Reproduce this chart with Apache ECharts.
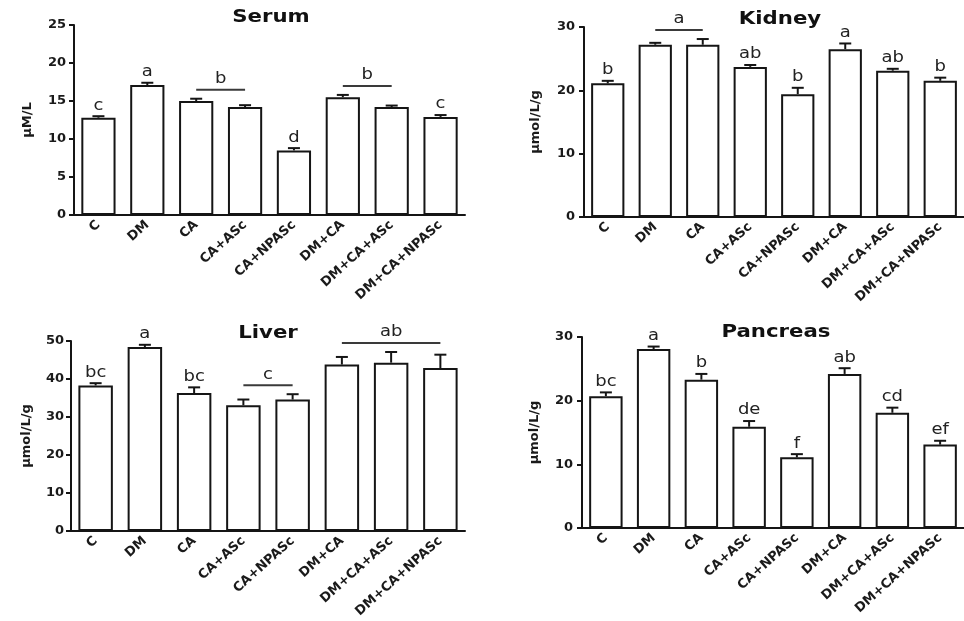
<!DOCTYPE html>
<html>
<head>
<meta charset="utf-8">
<script src="https://cdn.jsdelivr.net/npm/echarts@6/dist/echarts.min.js"></script>
<style>
html, body { margin: 0; padding: 0; background: #fff; }
#chart { width: 964px; height: 621px; }
</style>
</head>
<body>
<div id="chart"></div>
<script>
var myChart = echarts.init(document.getElementById('chart'));

var categories = ['C', 'DM', 'CA', 'CA+ASc', 'CA+NPASc', 'DM+CA', 'DM+CA+ASc', 'DM+CA+NPASc'];

// serum
var serumMean = [12.8, 17.1, 15.0, 14.2, 8.5, 15.5, 14.2, 12.9];
var serumErr = [0.2, 0.3, 0.3, 0.25, 0.3, 0.3, 0.2, 0.25];
var serumLetters = ['c', 'a', '', '', 'd', '', '', 'c'];
var serumGroups = [[2, 3, 'b'], [5, 6, 'b']];
var serumTicks = [0, 25, 5];

// kidney
var kidneyMean = [21.1, 27.2, 27.2, 23.7, 19.4, 26.5, 23.1, 21.5];
var kidneyErr = [0.4, 0.3, 0.9, 0.3, 1.0, 0.9, 0.3, 0.5];
var kidneyLetters = ['b', '', '', 'ab', 'b', 'a', 'ab', 'b'];
var kidneyGroups = [[1, 2, 'a']];
var kidneyTicks = [0, 30, 10];

// liver
var liverMean = [38.3, 48.4, 36.3, 33.1, 34.6, 43.8, 44.3, 42.9];
var liverErr = [0.6, 0.6, 1.5, 1.5, 1.4, 2.0, 2.8, 3.5];
var liverLetters = ['bc', 'a', 'bc', '', '', '', '', ''];
var liverGroups = [[3, 4, 'c'], [5, 7, 'ab']];
var liverTicks = [0, 50, 10];

// pancreas
var pancreasMean = [20.7, 28.1, 23.3, 15.9, 11.1, 24.2, 18.1, 13.1];
var pancreasErr = [0.6, 0.4, 0.9, 0.9, 0.5, 0.9, 0.8, 0.6];
var pancreasLetters = ['bc', 'a', 'b', 'de', 'f', 'ab', 'cd', 'ef'];
var pancreasGroups = [];
var pancreasTicks = [0, 30, 10];

var BOLD_FONT = '"DejaVu Sans", "Liberation Sans", sans-serif';
var INK = '#151515';

var panels = [
    { title: 'Serum', unit: '\u00b5M/L', mean: serumMean, err: serumErr, letters: serumLetters, groups: serumGroups, ticks: serumTicks,
      grid: { left: 74, top: 25, width: 391, height: 190 }, nameGap: 40, labelMargin: 8, titleX: 271, titleY: 18 },
    { title: 'Kidney', unit: '\u00b5mol/L/g', mean: kidneyMean, err: kidneyErr, letters: kidneyLetters, groups: kidneyGroups, ticks: kidneyTicks,
      grid: { left: 584, top: 27, width: 389, height: 190 }, nameGap: 42, labelMargin: 9, titleX: 780, titleY: 20 },
    { title: 'Liver', unit: '\u00b5mol/L/g', mean: liverMean, err: liverErr, letters: liverLetters, groups: liverGroups, ticks: liverTicks,
      grid: { left: 71, top: 341, width: 394, height: 190 }, nameGap: 38, labelMargin: 7, titleX: 268, titleY: 334 },
    { title: 'Pancreas', unit: '\u00b5mol/L/g', mean: pancreasMean, err: pancreasErr, letters: pancreasLetters, groups: pancreasGroups, ticks: pancreasTicks,
      grid: { left: 582, top: 337, width: 389, height: 191 }, nameGap: 41, labelMargin: 9, titleX: 776, titleY: 333 }
];

var grids = [], xAxes = [], yAxes = [], series = [], graphics = [];

panels.forEach(function(p, k) {
    grids.push(p.grid);

    xAxes.push({
        type: 'category',
        gridIndex: k,
        data: categories,
        axisLine: { lineStyle: { color: INK, width: 2 } },
        axisTick: { alignWithLabel: true, length: 4, lineStyle: { color: INK, width: 2 } },
        axisLabel: { rotate: 42, interval: 0, margin: 8, color: '#1a1a1a', fontWeight: 'bold', fontSize: 13, fontFamily: BOLD_FONT }
    });

    yAxes.push({
        type: 'value',
        gridIndex: k,
        min: p.ticks[0],
        max: p.ticks[1],
        interval: p.ticks[2],
        name: p.unit,
        nameLocation: 'middle',
        nameGap: p.nameGap,
        nameRotate: 90,
        nameTextStyle: { color: '#1a1a1a', fontWeight: 'bold', fontSize: 13, fontFamily: BOLD_FONT },
        axisLine: { show: true, lineStyle: { color: INK, width: 2 } },
        axisTick: { show: true, length: 5, lineStyle: { color: INK, width: 2 } },
        axisLabel: { margin: p.labelMargin, color: '#1a1a1a', fontWeight: 'bold', fontSize: 13, fontFamily: BOLD_FONT },
        splitLine: { show: false }
    });

    series.push({
        type: 'bar',
        xAxisIndex: k,
        yAxisIndex: k,
        barWidth: '70%',
        silent: true,
        data: p.mean,
        itemStyle: { color: '#fff', borderColor: INK, borderWidth: 2 }
    });

    // error bars + single letters
    series.push({
        type: 'custom',
        xAxisIndex: k,
        yAxisIndex: k,
        silent: true,
        z: 5,
        data: p.mean.map(function(m, i) { return [i, m, p.err[i]]; }),
        renderItem: function(params, api) {
            var i = api.value(0);
            var base = api.coord([i, api.value(1)]);
            var top = api.coord([i, api.value(1) + api.value(2)]);
            var kids = [
                { type: 'line', shape: { x1: base[0], y1: base[1], x2: top[0], y2: top[1] }, style: { stroke: INK, lineWidth: 2 } },
                { type: 'line', shape: { x1: top[0] - 6, y1: top[1], x2: top[0] + 6, y2: top[1] }, style: { stroke: INK, lineWidth: 2 } }
            ];
            if (p.letters[i]) {
                kids.push({ type: 'text', x: top[0], y: top[1] - 3, scaleX: 1.2,
                    style: { text: p.letters[i], align: 'center', verticalAlign: 'bottom', fontSize: 15, fontFamily: BOLD_FONT, fill: '#222' } });
            }
            return { type: 'group', children: kids };
        }
    });

    // group lines with shared letter
    if (p.groups.length) {
        series.push({
            type: 'custom',
            xAxisIndex: k,
            yAxisIndex: k,
            silent: true,
            z: 5,
            data: p.groups.map(function(g) { return [g[0], 0]; }),
            renderItem: function(params, api) {
                var g = p.groups[params.dataIndex];
                var yTop = Infinity;
                for (var i = g[0]; i <= g[1]; i++) {
                    yTop = Math.min(yTop, api.coord([i, p.mean[i] + p.err[i]])[1]);
                }
                var y = yTop - 9;
                var x1 = api.coord([g[0], 0])[0];
                var x2 = api.coord([g[1], 0])[0];
                return { type: 'group', children: [
                    { type: 'line', shape: { x1: x1, y1: y, x2: x2, y2: y }, style: { stroke: '#3a3a3a', lineWidth: 2 } },
                    { type: 'text', x: (x1 + x2) / 2, y: y - 3, scaleX: 1.2,
                      style: { text: g[2], align: 'center', verticalAlign: 'bottom', fontSize: 15, fontFamily: BOLD_FONT, fill: '#222' } }
                ] };
            }
        });
    }

    graphics.push({
        type: 'text',
        x: p.titleX,
        y: p.titleY,
        scaleX: 1.25,
        style: { text: p.title, align: 'center', verticalAlign: 'middle', fontSize: 17, fontWeight: 'bold', fontFamily: BOLD_FONT, fill: '#111' }
    });
});

myChart.setOption({
    animation: false,
    grid: grids,
    xAxis: xAxes,
    yAxis: yAxes,
    series: series,
    graphic: graphics
});
</script>
</body>
</html>
